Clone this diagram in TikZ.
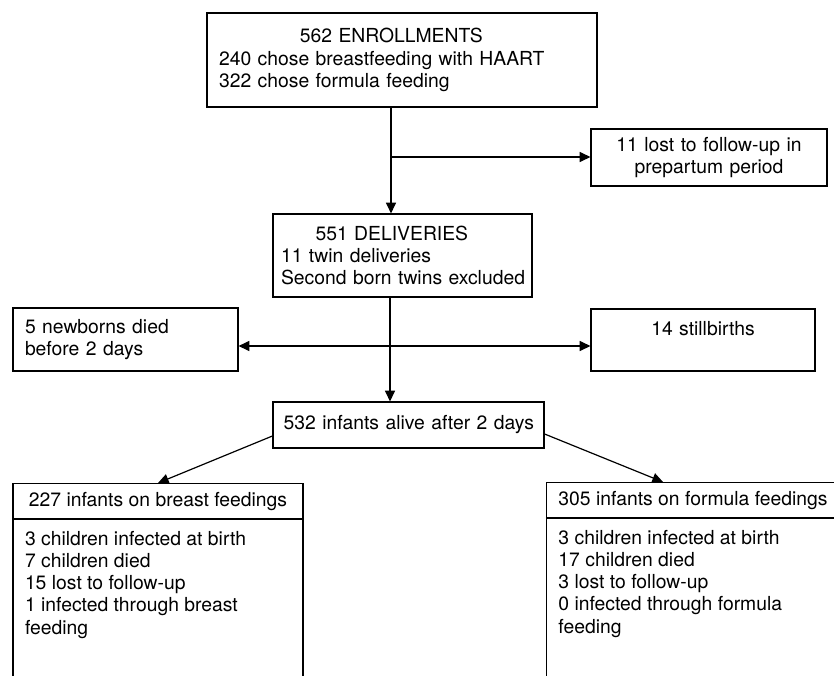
\documentclass[tikz,border=0pt]{standalone}
\usepackage{fontspec}
\setmainfont{TeX Gyre Heros}
\usetikzlibrary{arrows.meta, shapes.multipart}

\begin{document}
\begin{tikzpicture}[x=0.75pt,y=-0.75pt,line width=0.9pt,
    >={Triangle[length=8pt,width=7.5pt]},
    font=\fontsize{14.5pt}{16.7pt}\selectfont,
    flowbox/.style={draw,inner xsep=9pt,inner ysep=0pt,align=left},
    feedbox/.style={draw,rectangle split,rectangle split parts=2,
      rectangle split part align={center,left},align=left,
      inner xsep=9pt,inner ysep=6pt,minimum width=217.5pt,anchor=north},
    divider/.style={line width=1.8pt}]
  \path[use as bounding box,clip] (0,0) rectangle (834,675);
  % Nodes
  \node[flowbox,text width=274.5pt,minimum height=70.5pt] (enr) at (402,60)
    {{\centering 562 ENROLLMENTS\hspace*{16pt}\par}\mbox{240 chose breastfeeding with HAART}\\\mbox{322 chose formula feeding}};
  \node[flowbox,align=center,text width=159pt,minimum height=42.75pt] (lost) at (709,157.5)
    {\mbox{11 lost to follow-up in}\\\mbox{prepartum period}};
  \node[flowbox,text width=182.25pt,inner xsep=6pt,minimum height=62.25pt] (del) at (402.5,255.5)
    {{\centering 551 DELIVERIES\hspace*{16pt}\par}\mbox{11 twin deliveries}\\\mbox{Second born twins excluded}};
  \node[flowbox,text width=150.75pt,minimum height=47.25pt] (died) at (125.5,339.5)
    {\mbox{5 newborns died}\\\mbox{before 2 days}};
  \node[flowbox,align=center,text width=150pt,minimum height=46.5pt] (still) at (703,340)
    {14 stillbirths\\\mbox{}};
  \node[flowbox,text width=187.25pt,inner xsep=8pt,minimum height=34.5pt] (alive) at (408.5,425)
    {\mbox{532 infants alive after 2 days}};
  \node[feedbox] (bf) at (158,483)
    {227 infants on breast feedings
     \nodepart{two}\rule{0pt}{13pt}3 children infected at birth\\7 children died\\15 lost to follow-up\\
     1 infected through breast\\feeding\rule[-120pt]{0pt}{120pt}};
  \node[feedbox] (ff) at (693,482)
    {305 infants on formula feedings
     \nodepart{two}\rule{0pt}{13pt}3 children infected at birth\\17 children died\\3 lost to follow-up\\
     0 infected through formula\\feeding\rule[-120pt]{0pt}{120pt}};
  \draw[divider] (bf.text split west) -- (bf.text split east);
  \draw[divider] (ff.text split west) -- (ff.text split east);
  % Connectors
  \coordinate (j1) at (391,157);
  \coordinate (j2) at (390,346);
  \draw[->] (enr.south -| j1) -- (del.north -| j1);
  \draw[->] (j1) -- (lost.west |- j1);
  \draw[->] (del.south -| j2) -- (alive.north -| j2);
  \draw[->] (j2) -- (died.east |- j2);
  \draw[->] (j2) -- (still.west |- j2);
  \draw[->] ([yshift=-8.25pt]alive.west) -- (bf.north);
  \draw[->] ([yshift=-6.75pt]alive.east) -- ([xshift=-22.5pt]ff.north);
\end{tikzpicture}
\end{document}
